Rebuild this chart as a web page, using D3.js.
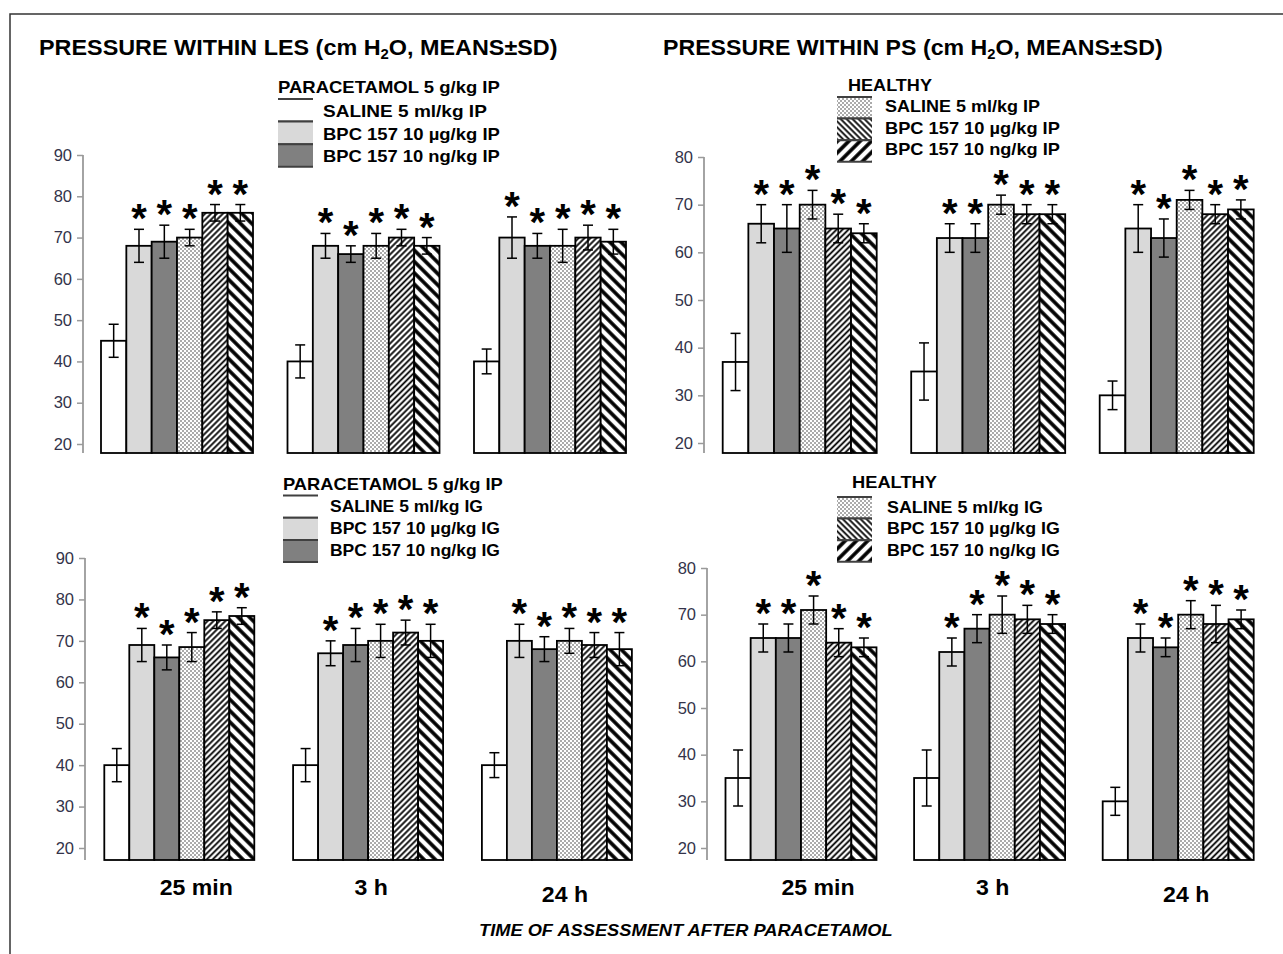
<!DOCTYPE html>
<html><head><meta charset="utf-8">
<script src="https://cdn.jsdelivr.net/npm/d3@7"></script>
<style>body{margin:0;background:#fff} svg{display:block}</style>
</head><body>
<svg id="chart" width="1283" height="954"></svg>
<script>
// ---------------- DATA ----------------
const categories = ["25 min", "3 h", "24 h"];
const seriesKeys = ["SALINE", "BPC 10 µg", "BPC 10 ng", "HEALTHY SALINE", "HEALTHY BPC 10 µg", "HEALTHY BPC 10 ng"];

const lesIpMeans = [[45, 68, 69, 70, 76, 76], [40, 68, 66, 68, 70, 68], [40, 70, 68, 68, 70, 69]];
const lesIpSD    = [[4, 4, 4, 2, 2, 2],       [4, 3, 2, 3, 2, 2],       [3, 5, 3, 4, 3, 3]];
const psIpMeans  = [[37, 66, 65, 70, 65, 64], [35, 63, 63, 70, 68, 68], [30, 65, 63, 71, 68, 69]];
const psIpSD     = [[6, 4, 5, 3, 3, 2],       [6, 3, 3, 2, 2, 2],       [3, 5, 4, 2, 2, 2]];
const lesIgMeans = [[40, 69, 66, 68.5, 75, 76], [40, 67, 69, 70, 72, 70], [40, 70, 68, 70, 69, 68]];
const lesIgSD    = [[4, 4, 3, 3.5, 2, 2],       [4, 3, 4, 4, 3, 4],       [3, 4, 3, 3, 3, 4]];
const psIgMeans  = [[35, 65, 65, 71, 64, 63], [35, 62, 67, 70, 69, 68], [30, 65, 63, 70, 68, 69]];
const psIgSD     = [[6, 3, 3, 3, 3, 2],       [6, 3, 3, 4, 3, 2],       [3, 3, 2, 3, 4, 2]];

const ticksLES = [20, 30, 40, 50, 60, 70, 80, 90];
const ticksPS  = [20, 30, 40, 50, 60, 70, 80];

const titleLES = ["PRESSURE WITHIN LES (cm H", "2", "O, MEANS±SD)"];
const titlePS  = ["PRESSURE WITHIN PS (cm H", "2", "O, MEANS±SD)"];
const headerParacetamol = "PARACETAMOL 5 g/kg IP";
const headerHealthy = "HEALTHY";
const legendParacetamolIP = ["SALINE 5 ml/kg IP", "BPC 157 10 µg/kg IP", "BPC 157 10 ng/kg IP"];
const legendHealthyIP     = ["SALINE 5 ml/kg IP", "BPC 157 10 µg/kg IP", "BPC 157 10 ng/kg IP"];
const legendParacetamolIG = ["SALINE 5 ml/kg IG", "BPC 157 10 µg/kg IG", "BPC 157 10 ng/kg IG"];
const legendHealthyIG     = ["SALINE 5 ml/kg IG", "BPC 157 10 µg/kg IG", "BPC 157 10 ng/kg IG"];
const xAxisTitle = "TIME OF ASSESSMENT AFTER PARACETAMOL";

// ---------------- STYLE / LAYOUT ----------------
const FONT = "'Liberation Sans', Arial, sans-serif";
const svg = d3.select("#chart");
const defs = svg.append("defs");

function hatch(id, angle, spacing, sw) {
  const p = defs.append("pattern").attr("id", id).attr("patternUnits", "userSpaceOnUse")
    .attr("width", spacing).attr("height", spacing).attr("patternTransform", `rotate(${angle})`);
  p.append("rect").attr("width", spacing).attr("height", spacing).attr("fill", "#fff");
  p.append("line").attr("x1", spacing / 2).attr("y1", -1).attr("x2", spacing / 2).attr("y2", spacing + 1)
    .attr("stroke", "#000").attr("stroke-width", sw);
}
hatch("hDenseUp", 45, 4.2, 1.8);
hatch("hWideDown", -45, 8, 3.6);
hatch("hDenseDown", -45, 4.2, 1.8);
hatch("hWideUp", 45, 8, 3.6);
const dp = defs.append("pattern").attr("id", "dots").attr("patternUnits", "userSpaceOnUse").attr("width", 4).attr("height", 4);
dp.append("rect").attr("width", 4).attr("height", 4).attr("fill", "#fff");
dp.append("circle").attr("cx", 1).attr("cy", 1).attr("r", 1).attr("fill", "#8f8f8f");
dp.append("circle").attr("cx", 3).attr("cy", 3).attr("r", 1).attr("fill", "#8f8f8f");

const barFills = ["#ffffff", "#d9d9d9", "#808080", "url(#dots)", "url(#hDenseUp)", "url(#hWideDown)"];
const fill = d3.scaleOrdinal().domain(seriesKeys).range(barFills);

// frame
svg.append("rect").attr("x", 10).attr("y", 14).attr("width", 1400).attr("height", 1000)
  .attr("fill", "none").attr("stroke", "#333").attr("stroke-width", 1.5);

function fitText(sel, x, y, width) {
  const w = sel.node().getComputedTextLength();
  sel.attr("transform", `translate(${x},${y}) scale(${width / w},1)`);
}

const panels = [
  { means: lesIpMeans, sd: lesIpSD, ticks: ticksLES, vTop: 90, y20: 444, yTop: 155, bottom: 453, axisX: 83, x0: 101, step: 186.5, bw: 152, labels: false },
  { means: psIpMeans, sd: psIpSD, ticks: ticksPS, vTop: 80, y20: 443, yTop: 157, bottom: 453, axisX: 704, x0: 722.7, step: 188.5, bw: 154, labels: false },
  { means: lesIgMeans, sd: lesIgSD, ticks: ticksLES, vTop: 90, y20: 848, yTop: 558, bottom: 860, axisX: 85, x0: 104.3, step: 188.8, bw: 150, labels: true },
  { means: psIgMeans, sd: psIgSD, ticks: ticksPS, vTop: 80, y20: 848, yTop: 568, bottom: 860, axisX: 707, x0: 725.5, step: 188.6, bw: 151, labels: true }
];
const labelOffsets = [17, 3, 8];
const labelDy = [0, 0, 7];

panels.forEach(p => {
  const g = svg.append("g");
  const y = d3.scaleLinear().domain([20, p.vTop]).range([p.y20, p.yTop]);
  const x = d3.scaleBand().domain(categories).range([p.x0, p.x0 + 2 * p.step + p.bw])
    .paddingInner(1 - p.bw / p.step).paddingOuter(0);
  const xi = d3.scaleBand().domain(seriesKeys).range([0, x.bandwidth()]);

  const axis = d3.axisLeft(y).tickValues(p.ticks).tickSize(6).tickPadding(5).tickSizeOuter(0);
  const ag = g.append("g").attr("transform", `translate(${p.axisX},0)`).call(axis);
  ag.select(".domain").remove();
  ag.append("line").attr("x1", 0).attr("x2", 0).attr("y1", y(p.vTop)).attr("y2", p.bottom)
    .attr("stroke", "#9a9a9a").attr("stroke-width", 1.8);
  ag.selectAll(".tick line").attr("stroke", "#9a9a9a").attr("stroke-width", 1.5);
  ag.selectAll(".tick text").attr("fill", "#33334a").style("font", `16.5px ${FONT}`);

  const rows = categories.flatMap((c, i) => seriesKeys.map((k, j) => ({ c, k, j, m: p.means[i][j], sd: p.sd[i][j] })));
  const bg = g.append("g");
  bg.selectAll("rect").data(rows).join("rect")
    .attr("x", d => x(d.c) + xi(d.k))
    .attr("width", xi.bandwidth())
    .attr("y", d => y(d.m))
    .attr("height", d => p.bottom - y(d.m))
    .attr("fill", d => fill(d.k))
    .attr("stroke", "#000").attr("stroke-width", 1.8);

  const eg = g.append("g").attr("stroke", "#000").attr("stroke-width", 1.5);
  rows.forEach(d => {
    const cx = x(d.c) + xi(d.k) + xi.bandwidth() / 2;
    eg.append("line").attr("x1", cx).attr("x2", cx).attr("y1", y(d.m - d.sd)).attr("y2", y(d.m + d.sd));
    eg.append("line").attr("x1", cx - 5).attr("x2", cx + 5).attr("y1", y(d.m - d.sd)).attr("y2", y(d.m - d.sd));
    eg.append("line").attr("x1", cx - 5).attr("x2", cx + 5).attr("y1", y(d.m + d.sd)).attr("y2", y(d.m + d.sd));
  });

  g.append("g").selectAll("text").data(rows.filter(d => d.j > 0)).join("text")
    .attr("x", d => x(d.c) + xi(d.k) + xi.bandwidth() / 2)
    .attr("y", d => y(d.m + d.sd) + 3)
    .attr("text-anchor", "middle")
    .style("font", `bold 40px ${FONT}`)
    .text("*");

  if (p.labels) {
    categories.forEach((c, i) => {
      const t = g.append("text").style("font", `bold 22px ${FONT}`).attr("text-anchor", "middle").text(c);
      t.attr("transform", `translate(${x(c) + x.bandwidth() / 2 + labelOffsets[i]},${895 + labelDy[i]}) scale(1.05,1)`);
    });
  }
});

// titles
function title(parts, x, yb, width) {
  const t = svg.append("text").style("font", `bold 22px ${FONT}`);
  t.append("tspan").text(parts[0]);
  t.append("tspan").attr("dy", 4).style("font-size", "14px").text(parts[1]);
  t.append("tspan").attr("dy", -4).text(parts[2]);
  const w = t.node().getBBox().width;
  t.attr("transform", `translate(${x},${yb}) scale(${width / w},1)`);
}
title(titleLES, 39, 55, 519);
title(titlePS, 663, 55, 500);

// x-axis title
const xt = svg.append("text").style("font", `italic bold 16.5px ${FONT}`).text(xAxisTitle);
fitText(xt, 479, 936, 414);

// legends
const legendSpecs = [
  { header: headerParacetamol, hx: 278, hy: 93, hw: 222, labels: legendParacetamolIP, fills: ["#ffffff", "#d9d9d9", "#808080"], sx: 278, sy: 99, sh: 22.6, tx: 323, tdy: 18, widths: [164, 177, 177] },
  { header: headerHealthy, hx: 848, hy: 91, hw: 84, labels: legendHealthyIP, fills: ["url(#dots)", "url(#hDenseDown)", "url(#hWideUp)"], sx: 837, sy: 97, sh: 21.6, tx: 885, tdy: 15, widths: [155, 175, 175] },
  { header: headerParacetamol, hx: 283, hy: 490, hw: 220, labels: legendParacetamolIG, fills: ["#ffffff", "#d9d9d9", "#808080"], sx: 283, sy: 495.5, sh: 22.2, tx: 330, tdy: 16, widths: [153, 170, 170] },
  { header: headerHealthy, hx: 852, hy: 488, hw: 85, labels: legendHealthyIG, fills: ["url(#dots)", "url(#hDenseDown)", "url(#hWideUp)"], sx: 837, sy: 497, sh: 21.6, tx: 887, tdy: 15.5, widths: [156, 173, 173] }
];
legendSpecs.forEach(L => {
  const g = svg.append("g");
  const h = g.append("text").style("font", `bold 16.5px ${FONT}`).text(L.header);
  fitText(h, L.hx, L.hy, L.hw);
  L.labels.forEach((lab, i) => {
    const top = L.sy + i * L.sh;
    g.append("rect").attr("x", L.sx).attr("y", top).attr("width", 35).attr("height", L.sh).attr("fill", L.fills[i]);
    g.append("line").attr("x1", L.sx).attr("x2", L.sx + 35).attr("y1", top).attr("y2", top).attr("stroke", "#404040").attr("stroke-width", 2);
    g.append("line").attr("x1", L.sx).attr("x2", L.sx + 35).attr("y1", top + L.sh).attr("y2", top + L.sh).attr("stroke", "#404040").attr("stroke-width", 2);
    const t = g.append("text").style("font", `bold 16.5px ${FONT}`).text(lab);
    fitText(t, L.tx, top + L.tdy, L.widths[i]);
  });
});
</script>
</body></html>
